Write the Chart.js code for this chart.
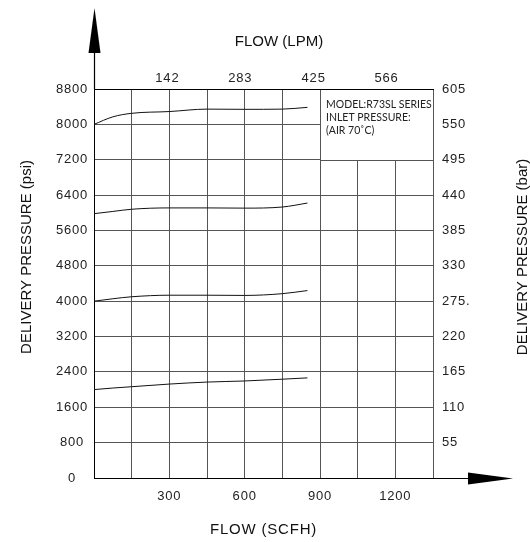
<!DOCTYPE html>
<html lang="en">
<head>
    <meta charset="UTF-8">
    <title>Delivery Pressure vs Flow</title>
    <script src="https://cdn.jsdelivr.net/npm/chart.js"></script>
    <style>
        html, body { margin: 0; padding: 0; background: #fff; }
        #wrap { width: 530px; height: 542px; }
    </style>
</head>
<body>
    <div id="wrap"><canvas id="flowChart"></canvas></div>

    <script>
        // flow in SCFH (bottom axis), pressure in psi (left axis)
        const flowScfh = [0, 75, 150, 300, 450, 600, 750, 850];
        const curve8000 = [8000, 8170, 8250, 8290, 8345, 8340, 8345, 8385];
        const curve6000 = [5980, 6030, 6080, 6110, 6110, 6105, 6130, 6220];
        const curve4000 = [4000, 4055, 4100, 4135, 4135, 4130, 4170, 4240];
        const curve2000 = [2000, 2035, 2065, 2125, 2170, 2195, 2235, 2265];

        const scfhTicks = [300, 600, 900, 1200];
        const lpmTicks = [142, 283, 425, 566];
        const lpmMax = 656;
        const barLabels = ['', '55', '110', '165', '220', '275.', '330', '385', '440', '495', '550', '605'];

        const noteLines = ['MODEL:R73SL SERIES', 'INLET PRESSURE:', '(AIR 70˚C)'];

        const gridColor = '#555';
        const tickFont = { family: 'Liberation Sans, Arial, sans-serif', size: 13 };
        const titleFont = '15px "Liberation Sans", Arial, sans-serif';

        function curveData(values) {
            return values.map((y, i) => ({ x: flowScfh[i], y }));
        }

        function curveSet(values) {
            return {
                data: curveData(values),
                borderColor: '#111',
                borderWidth: 1,
                pointRadius: 0,
                fill: false,
                cubicInterpolationMode: 'monotone'
            };
        }

        const decorPlugin = {
            id: 'decor',
            beforeUpdate(chart) {
                chart.ctx.letterSpacing = '0.8px';
            },
            beforeDraw(chart) {
                chart.ctx.letterSpacing = '0.8px';
            },
            beforeDatasetsDraw(chart) {
                // blank box for the model note, top right of the grid
                let ctx = chart.ctx;
                let area = chart.chartArea;
                let l = Math.round(chart.scales.x.getPixelForValue(900));
                let b = Math.round(chart.scales.y.getPixelForValue(7200));
                let t = Math.round(area.top), r = Math.round(area.right);
                ctx.save();
                ctx.fillStyle = '#fff';
                ctx.fillRect(l, t, r - l, b - t);
                ctx.lineWidth = 1;
                ctx.strokeStyle = gridColor;
                ctx.beginPath();
                ctx.moveTo(l + 0.5, t); ctx.lineTo(l + 0.5, b + 0.5);
                ctx.lineTo(r + 0.5, b + 0.5); ctx.lineTo(r + 0.5, t);
                ctx.stroke();
                ctx.strokeStyle = '#000';
                ctx.beginPath();
                ctx.moveTo(l, t + 0.5); ctx.lineTo(r + 1, t + 0.5);
                ctx.stroke();

                ctx.letterSpacing = '0px';
                ctx.fillStyle = '#222';
                ctx.font = '10.5px Lato, "Open Sans", sans-serif';
                ctx.textBaseline = 'middle';
                noteLines.forEach((line, i) => {
                    ctx.fillText(line, l + 6, t + 16 + i * 13);
                });
                ctx.restore();
            },
            afterDraw(chart) {
                let ctx = chart.ctx;
                let area = chart.chartArea;
                let ax = Math.round(area.left) + 0.5;
                let ay = Math.round(area.bottom) + 0.5;
                ctx.save();
                ctx.strokeStyle = '#000';
                ctx.fillStyle = '#000';
                ctx.lineWidth = 1.2;

                // vertical axis arrow
                ctx.beginPath();
                ctx.moveTo(ax, area.top);
                ctx.lineTo(ax, 52);
                ctx.stroke();
                ctx.beginPath();
                ctx.moveTo(ax - 6, 53);
                ctx.lineTo(ax + 6, 53);
                ctx.lineTo(ax, 8);
                ctx.closePath();
                ctx.fill();

                // horizontal axis arrow
                ctx.beginPath();
                ctx.moveTo(area.right, ay);
                ctx.lineTo(469, ay);
                ctx.stroke();
                ctx.beginPath();
                ctx.moveTo(468, ay - 6);
                ctx.lineTo(468, ay + 6);
                ctx.lineTo(513, ay);
                ctx.closePath();
                ctx.fill();

                // axis titles
                ctx.letterSpacing = '0px';
                ctx.font = titleFont;
                ctx.fillStyle = '#111';
                ctx.textAlign = 'center';
                ctx.textBaseline = 'middle';
                ctx.fillText('FLOW (LPM)', 279, 42);

                let midY = chart.scales.y.getPixelForValue(5000);
                ctx.save();
                ctx.translate(27, midY);
                ctx.rotate(-Math.PI / 2);
                ctx.fillText('DELIVERY PRESSURE (psi)', 0, 0);
                ctx.restore();

                ctx.save();
                ctx.translate(522.5, midY);
                ctx.rotate(-Math.PI / 2);
                ctx.fillText('DELIVERY PRESSURE (bar)', 0, 0);
                ctx.restore();

                ctx.restore();
            }
        };

        let ctx = document.getElementById('flowChart').getContext('2d');

        let chart = new Chart(ctx, {
            type: 'line',
            data: {
                datasets: [
                    curveSet(curve8000),
                    curveSet(curve6000),
                    curveSet(curve4000),
                    curveSet(curve2000)
                ]
            },
            options: {
                responsive: true,
                maintainAspectRatio: false,
                animation: false,
                layout: { padding: 0 },
                plugins: {
                    legend: { display: false },
                    tooltip: { enabled: false }
                },
                scales: {
                    x: {
                        type: 'linear',
                        position: 'bottom',
                        min: 0,
                        max: 1350,
                        afterFit: (s) => { s.height = 64; },
                        grid: { color: gridColor, drawTicks: false },
                        border: { color: '#000' },
                        ticks: {
                            stepSize: 150,
                            padding: 11,
                            maxRotation: 0,
                            autoSkip: false,
                            color: '#222',
                            font: tickFont,
                            callback: (v) => scfhTicks.includes(v) ? String(v) : ''
                        },
                        title: {
                            display: true,
                            text: 'FLOW (SCFH)',
                            color: '#111',
                            font: { family: 'Liberation Sans, Arial, sans-serif', size: 15 },
                            padding: { top: 0, bottom: 3 }
                        }
                    },
                    x2: {
                        type: 'linear',
                        position: 'top',
                        min: 0,
                        max: lpmMax,
                        afterFit: (s) => { s.height = 89; },
                        afterBuildTicks: (s) => { s.ticks = lpmTicks.map(v => ({ value: v })); },
                        grid: { display: false, drawTicks: false },
                        border: { color: '#000' },
                        ticks: {
                            padding: 3,
                            maxRotation: 0,
                            autoSkip: false,
                            color: '#222',
                            font: tickFont,
                            callback: (v) => String(v)
                        }
                    },
                    y: {
                        type: 'linear',
                        position: 'left',
                        min: 0,
                        max: 8800,
                        afterFit: (s) => { s.width = 94; },
                        grid: { color: gridColor, drawTicks: false },
                        border: { color: '#000' },
                        ticks: {
                            stepSize: 800,
                            padding: 6,
                            crossAlign: 'center',
                            color: '#222',
                            font: tickFont,
                            callback: (v) => String(v)
                        }
                    },
                    y2: {
                        type: 'linear',
                        position: 'right',
                        min: 0,
                        max: 8800,
                        afterFit: (s) => { s.width = 97; },
                        grid: { display: false, drawTicks: false },
                        border: { color: gridColor },
                        ticks: {
                            stepSize: 800,
                            padding: 9,
                            color: '#222',
                            font: tickFont,
                            callback: (v) => barLabels[Math.round(v / 800)]
                        }
                    }
                }
            },
            plugins: [decorPlugin]
        });
    </script>
</body>
</html>
